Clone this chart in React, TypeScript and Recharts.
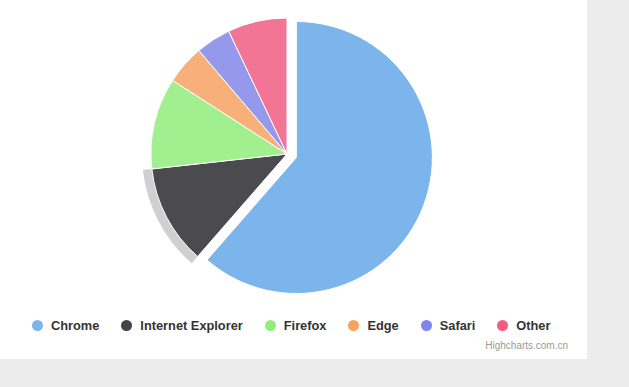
import React from 'react';
import { PieChart, Pie, Cell } from 'recharts';

// 浏览器市场份额
const browsers = ['Chrome', 'Internet Explorer', 'Firefox', 'Edge', 'Safari', 'Other'];
const shares = [61.41, 11.84, 10.85, 4.67, 4.18, 7.05];
const sliceColors = ['#7cb4ec', '#4b4a4f', '#a2ef90', '#f8b07a', '#9599eb', '#f37596'];
const legendColors = ['#7cb5ec', '#434348', '#90ed7d', '#f7a35c', '#8085e9', '#f15c80'];
const slicedIndex = 0; // Chrome
const hoverIndex = 1; // Internet Explorer

const W = 587;
const H = 359;
const CX = 287;
const CY = 154;
const R = 136;
const SLICE_OFFSET = 10;

const App: React.FC = () => {
  const data = browsers.map((name, i) => ({ name, y: shares[i] }));

  // 切出偏移：按 Chrome 扇区的中间角度计算
  const total = shares.reduce((a, b) => a + b, 0);
  const before = shares.slice(0, slicedIndex).reduce((a, b) => a + b, 0);
  const mid = ((before + shares[slicedIndex] / 2) / total) * Math.PI * 2;
  const dx = Math.sin(mid) * SLICE_OFFSET;
  const dy = -Math.cos(mid) * SLICE_OFFSET;

  return (
    <div style={{ width: 629, height: 387, background: '#ececec', position: 'relative' }}>
      <style>{'body{margin:0}'}</style>
      <div style={{ position: 'absolute', left: 0, top: 0, width: W, height: H, background: '#ffffff' }}>
        <PieChart width={W} height={H} margin={{ top: 0, right: 0, bottom: 0, left: 0 }}>
          {/* hover halo */}
          <Pie
            data={data}
            dataKey="y"
            nameKey="name"
            cx={CX}
            cy={CY}
            innerRadius={R - 1}
            outerRadius={R + 9}
            startAngle={90}
            endAngle={-270}
            stroke="none"
            isAnimationActive={false}
          >
            {data.map((d, i) => (
              <Cell key={d.name} fill={i === hoverIndex ? '#d0d0d1' : 'none'} stroke="none" />
            ))}
          </Pie>
          <Pie
            data={data}
            dataKey="y"
            nameKey="name"
            cx={CX}
            cy={CY}
            outerRadius={R}
            startAngle={90}
            endAngle={-270}
            isAnimationActive={false}
          >
            {data.map((d, i) => (
              <Cell
                key={d.name}
                fill={i === slicedIndex ? 'none' : sliceColors[i]}
                stroke={i === slicedIndex ? 'none' : '#ffffff'}
                strokeWidth={1}
              />
            ))}
          </Pie>
          <Pie
            data={data}
            dataKey="y"
            nameKey="name"
            cx={CX + dx}
            cy={CY + dy}
            outerRadius={R}
            startAngle={90}
            endAngle={-270}
            isAnimationActive={false}
          >
            {data.map((d, i) => (
              <Cell
                key={d.name}
                fill={i === slicedIndex ? sliceColors[i] : 'none'}
                stroke={i === slicedIndex ? '#ffffff' : 'none'}
                strokeWidth={1}
              />
            ))}
          </Pie>
        </PieChart>

        <div
          style={{
            position: 'absolute',
            left: 32,
            top: 316,
            display: 'flex',
            alignItems: 'center',
            gap: 22,
            fontFamily: '"Liberation Sans", Arial, sans-serif',
            fontWeight: 'bold',
            fontSize: 12.8,
            color: '#333333',
            whiteSpace: 'nowrap',
          }}
        >
          {browsers.map((name, i) => (
            <div key={name} style={{ display: 'flex', alignItems: 'center', height: 18 }}>
              <span
                style={{
                  display: 'inline-block',
                  width: 11,
                  height: 11,
                  borderRadius: '50%',
                  background: legendColors[i],
                  marginRight: 8,
                }}
              />
              <span>{name}</span>
            </div>
          ))}
        </div>

        <div
          style={{
            position: 'absolute',
            right: W - 568,
            top: 340,
            fontFamily: '"Liberation Sans", Arial, sans-serif',
            fontSize: 10,
            color: '#999999',
          }}
        >
          Highcharts.com.cn
        </div>
      </div>
    </div>
  );
};

export default App;
